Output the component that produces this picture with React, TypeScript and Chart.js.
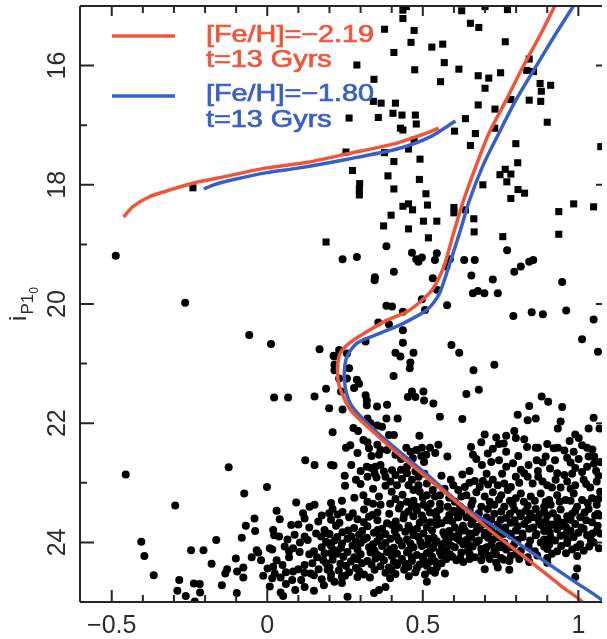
import { useEffect, useRef } from "react";
import { Chart, registerables } from "chart.js";

Chart.register(...registerables);

// ---------- axes ----------
const X_MIN = -0.602;
const X_MAX = 1.076;
const Y_MIN = 15;
const Y_MAX = 25;
const xMajorTicks = [-0.5, 0, 0.5, 1];
const xTickLabels = ["\u22120.5", "0", "0.5", "1"];
const xMinorTicks = [-0.4, -0.3, -0.2, -0.1, 0.1, 0.2, 0.3, 0.4, 0.6, 0.7, 0.8, 0.9];
const yMajorTicks = [16, 18, 20, 22, 24];
const yTickLabels = ["16", "18", "20", "22", "24"];
const yMinorTicks = [17, 19, 21, 23];
const yTitleMain = "i";
const yTitleSub = "P1";
const yTitleSubSub = "0";

// ---------- legend ----------
const seriesNames = ["[Fe/H]=\u22122.19", "[Fe/H]=\u22121.80"];
const seriesAges = ["t=13 Gyrs", "t=13 Gyrs"];
const seriesColors = ["#f0553a", "#3760c4"];

// ---------- isochrones ----------
const redHB: [number, number][] = [
  [-0.462, 18.54], [-0.433, 18.37], [-0.379, 18.2], [-0.315, 18.09], [-0.236, 17.97],
  [-0.124, 17.85], [-0.006, 17.72], [0.131, 17.62], [0.258, 17.48], [0.417, 17.3],
  [0.497, 17.16], [0.551, 17.05],
];
const redRGB: [number, number][] = [
  [1.04, 25.25], [1.013, 25.0], [0.949, 24.75], [0.841, 24.3], [0.736, 23.88], [0.631, 23.42],
  [0.522, 22.95], [0.417, 22.5], [0.344, 22.16], [0.268, 21.78], [0.232, 21.39], [0.226, 21.06],
  [0.236, 20.81], [0.268, 20.64], [0.312, 20.49], [0.385, 20.27], [0.449, 20.13], [0.49, 19.97],
  [0.529, 19.77], [0.567, 19.38], [0.599, 18.81], [0.631, 18.26], [0.672, 17.67], [0.713, 17.13],
  [0.768, 16.58], [0.822, 16.02], [0.879, 15.47], [0.924, 15.0], [0.939, 14.83],
];
const blueHB: [number, number][] = [
  [-0.204, 18.07], [-0.172, 18.0], [-0.115, 17.92], [-0.006, 17.8], [0.099, 17.72],
  [0.258, 17.57], [0.417, 17.4], [0.522, 17.2], [0.605, 16.93],
];
const blueRGB: [number, number][] = [
  [1.12, 25.25], [1.076, 24.97], [1.0, 24.7], [0.895, 24.33], [0.736, 23.76], [0.624, 23.37],
  [0.522, 22.9], [0.354, 22.16], [0.274, 21.73], [0.252, 21.44], [0.248, 21.11], [0.258, 20.86],
  [0.29, 20.65], [0.363, 20.49], [0.439, 20.32], [0.513, 20.1], [0.551, 19.85], [0.583, 19.38],
  [0.618, 18.81], [0.65, 18.26], [0.694, 17.67], [0.745, 17.13], [0.799, 16.58], [0.863, 16.02],
  [0.927, 15.47], [0.984, 15.0], [1.003, 14.83],
];

// ---------- stars drawn as squares ----------
const squareStars: [number, number][] = [
  [0.436, 15.07], [0.447, 15.01], [0.436, 15.21], [0.377, 15.39], [0.472, 15.41], [0.462, 15.61],
  [0.407, 15.78], [0.529, 15.69], [0.564, 15.64], [0.625, 15.08], [0.7, 15.01], [0.772, 15.06],
  [0.653, 15.29], [0.68, 15.36], [0.765, 15.6], [0.288, 15.99], [0.474, 16.07], [0.569, 15.95],
  [0.616, 16.06], [0.557, 16.27], [0.343, 16.23], [0.678, 16.17], [0.712, 16.21], [0.75, 16.12],
  [0.7, 16.38], [0.678, 16.66], [0.732, 16.73], [0.783, 16.57], [0.842, 15.89], [0.834, 16.08],
  [0.856, 16.1], [0.877, 16.3], [0.911, 16.33], [0.881, 16.43], [0.879, 16.6], [0.842, 16.58],
  [0.9, 16.95], [0.341, 16.6], [0.366, 16.63], [0.412, 16.63], [0.357, 16.87], [0.404, 16.8],
  [0.433, 16.83], [0.476, 16.83], [0.263, 16.88], [0.479, 16.98], [0.428, 17.05], [0.436, 17.08],
  [0.637, 16.89], [0.602, 17.1], [0.669, 17.14], [0.731, 17.05], [0.653, 17.34], [0.472, 17.25],
  [0.454, 17.4], [0.377, 17.46], [0.253, 17.45], [0.407, 17.61], [0.491, 17.57], [0.799, 17.31],
  [0.805, 17.63], [0.274, 17.76], [0.765, 17.74], [0.748, 17.83], [0.783, 17.82], [0.77, 17.95],
  [0.388, 17.85], [0.489, 17.91], [0.297, 17.98], [0.296, 18.07], [0.296, 18.17], [0.407, 18.07],
  [0.51, 18.15], [0.693, 18.0], [0.806, 18.08], [0.827, 18.14], [0.783, 18.23], [0.436, 18.36],
  [0.454, 18.32], [0.467, 18.42], [0.515, 18.34], [0.6, 18.38], [0.6, 18.47], [0.637, 18.42],
  [0.664, 18.57], [0.665, 18.79], [0.398, 18.51], [0.374, 18.69], [0.454, 18.74], [0.502, 18.61],
  [0.545, 18.61], [0.518, 18.89], [0.757, 18.87], [0.937, 18.45], [0.985, 18.32], [1.049, 18.37],
  [0.937, 18.83], [0.189, 18.96], [1.072, 17.36], [-0.239, 18.05],
];

// ---------- stars drawn as circles ----------
const circleStars: [number, number][] = [
  [-0.487, 19.19], [-0.264, 19.98],
  [0.383, 19.03], [0.242, 19.25], [0.288, 19.21], [0.346, 19.55], [0.407, 19.46], [0.465, 19.14],
  [0.479, 19.25], [0.497, 19.22], [0.486, 19.29], [0.545, 19.15], [0.539, 19.26], [0.587, 19.25],
  [0.633, 19.26], [0.667, 19.26], [0.656, 19.52], [0.532, 19.57], [0.576, 19.37], [0.725, 19.59],
  [0.771, 19.1], [0.794, 19.46], [0.815, 19.37], [0.842, 19.29], [0.855, 19.26], [0.948, 19.63],
  [0.677, 19.78], [0.661, 19.82], [0.698, 19.82], [0.741, 19.82], [0.791, 20.2], [0.85, 20.14],
  [0.886, 20.17], [0.961, 20.11], [0.383, 20.03], [0.401, 20.04], [0.436, 20.13], [0.497, 19.92],
  [0.507, 20.1], [0.578, 20.02], [0.545, 19.76], [0.345, 19.6], [1.049, 20.26],
  [0.391, 20.34], [0.357, 20.31], [0.436, 20.44], [0.316, 20.63], [0.168, 20.76], [0.436, 20.65],
  [0.412, 20.82], [0.47, 20.82], [0.592, 20.69], [0.617, 20.82], [1.012, 20.59], [1.063, 20.8],
  [0.213, 20.87], [0.231, 20.77], [0.216, 20.88], [0.256, 20.83], [0.216, 21.02], [0.216, 21.11],
  [0.263, 21.08], [0.231, 21.25], [0.256, 21.25], [0.428, 20.88], [0.46, 20.98], [0.458, 21.08],
  [0.663, 21.11], [0.73, 21.02], [0.406, 21.21], [0.288, 21.27], [0.295, 21.34], [0.279, 21.41],
  [0.189, 21.42], [0.152, 21.55], [0.237, 21.47], [0.316, 21.53], [0.32, 21.62], [0.465, 21.47],
  [0.476, 21.56], [0.452, 21.56], [0.502, 21.47], [0.504, 21.62], [0.534, 21.67], [0.64, 21.51],
  [0.68, 21.44], [0.882, 21.55], [0.903, 21.64], [0.842, 21.71], [0.948, 21.73], [0.199, 21.75],
  [0.242, 21.77], [0.32, 21.7], [0.353, 21.72], [0.385, 21.69],
  [-0.058, 20.52], [0.012, 20.67], [0.022, 21.57], [0.067, 21.57], [0.122, 22.62], [-0.455, 22.86],
  [-0.124, 22.74], [-0.296, 23.38], [-0.001, 23.07], [-0.074, 23.18], [0.093, 23.33], [0.03, 23.47],
  [0.04, 23.61], [-0.041, 23.6], [-0.069, 23.72], [-0.039, 23.81], [0.077, 23.71], [0.115, 23.51],
  [0.12, 23.6], [0.019, 23.79], [0.022, 23.88], [0.038, 23.9], [0.088, 23.87], [0.12, 23.9],
  [-0.082, 23.92], [-0.164, 23.96], [-0.405, 23.99], [-0.034, 24.13], [-0.029, 24.17], [0.008, 24.1],
  [0.016, 24.12], [0.056, 24.07], [0.083, 24.1], [0.104, 24.16], [-0.395, 24.23], [-0.245, 24.13],
  [-0.205, 24.13], [-0.101, 24.27], [-0.179, 24.36], [-0.129, 24.45], [-0.135, 24.52], [-0.097, 24.49],
  [-0.077, 24.42], [-0.077, 24.59], [0.001, 24.44], [0.019, 24.41], [0.049, 24.38], [0.024, 24.52],
  [0.016, 24.6], [0.043, 24.59], [-0.013, 24.56], [0.12, 24.38], [0.12, 24.51], [0.083, 24.49],
  [0.08, 24.63], [0.109, 24.63], [-0.365, 24.55], [-0.283, 24.63], [-0.146, 24.72], [0.008, 24.74],
  [-0.236, 24.69], [-0.217, 24.7], [-0.289, 24.81], [-0.262, 24.9], [-0.216, 24.84], [-0.233, 24.99],
  [-0.098, 24.85], [0.043, 24.84], [0.051, 24.9],
  [0.03, 24.3], [0.07, 24.15], [-0.02, 24.3], [-0.05, 24.25], [0.25, 24.56], [0.29, 24.58],
  [0.06, 24.7], [0.24, 24.68],
  [0.136, 23.4], [0.152, 23.37], [0.205, 23.34], [0.152, 22.7], [0.205, 22.7], [0.199, 23.51],
  [0.13, 23.96], [0.157, 23.85], [0.205, 24.18], [0.164, 23.65], [0.194, 23.85], [0.184, 23.79],
  [0.173, 23.9], [0.189, 23.99], [0.2, 24.02], [0.15, 24.15], [0.16, 24.25], [0.145, 24.35],
  [0.165, 24.45], [0.15, 24.55], [0.184, 24.18], [0.189, 24.35], [0.194, 24.46], [0.15, 24.81],
  [0.182, 24.72], [0.205, 24.6],
  [0.1, 23.7], [0.135, 23.75], [0.175, 23.55], [0.065, 23.95], [0.105, 24.0], [0.175, 24.08],
  [0.07, 24.25], [0.135, 24.2], [0.18, 24.3], [0.06, 24.5], [0.1, 24.45], [0.14, 24.52],
  [0.175, 24.62], [0.12, 24.75], [0.09, 24.8],
  [0.21, 22.15], [0.277, 22.08], [0.292, 22.13], [0.322, 21.92], [0.332, 22.0], [0.354, 22.04],
  [0.369, 22.06], [0.383, 21.92], [0.419, 21.92], [0.391, 22.2], [0.407, 22.2], [0.489, 22.21],
  [0.555, 21.89], [0.627, 21.93], [0.253, 22.41], [0.267, 22.37], [0.309, 22.28], [0.322, 22.32],
  [0.327, 22.42], [0.354, 22.36], [0.364, 22.45], [0.359, 22.53], [0.412, 22.53], [0.447, 22.41],
  [0.46, 22.48], [0.479, 22.45], [0.468, 22.59], [0.497, 22.41], [0.511, 22.53], [0.504, 22.65],
  [0.523, 22.41], [0.55, 22.36], [0.579, 22.56], [0.213, 22.71], [0.249, 22.88], [0.285, 22.95],
  [0.32, 22.73], [0.334, 22.75], [0.348, 22.73], [0.364, 22.7], [0.375, 22.81], [0.38, 22.9],
  [0.322, 22.9], [0.351, 22.91], [0.401, 22.79], [0.412, 22.87], [0.396, 22.98], [0.417, 23.04],
  [0.433, 22.93], [0.449, 22.73], [0.449, 22.84], [0.476, 22.81], [0.486, 22.9], [0.454, 23.04],
  [0.47, 23.12], [0.486, 23.04], [0.513, 23.01], [0.532, 23.12], [0.513, 23.21], [0.539, 23.23],
  [0.555, 23.21], [0.525, 23.35], [0.555, 23.35], [0.502, 23.37], [0.627, 22.86], [0.598, 23.04],
  [0.614, 23.12], [0.635, 23.07], [0.624, 23.23], [0.603, 23.32], [0.309, 23.21], [0.322, 23.32],
  [0.359, 23.23], [0.364, 23.37], [0.412, 23.27], [0.428, 23.37], [0.449, 23.32],
  [0.29, 22.5], [0.335, 22.55], [0.385, 22.45], [0.43, 22.6], [0.495, 22.55], [0.54, 22.5],
  [0.27, 22.7], [0.3, 22.8], [0.345, 22.84], [0.43, 22.78], [0.465, 22.95], [0.505, 22.85],
  [0.56, 22.88], [0.59, 22.95], [0.25, 23.05], [0.3, 23.02], [0.34, 23.1], [0.38, 23.05],
  [0.4, 23.15], [0.435, 23.2], [0.49, 23.15], [0.5, 23.25], [0.57, 23.1], [0.585, 23.25],
  [0.24, 23.3], [0.28, 23.25], [0.34, 23.35], [0.395, 23.35], [0.47, 23.3], [0.48, 23.4],
  [0.58, 23.4], [0.62, 23.4],
  [0.805, 21.86], [0.837, 21.95], [0.863, 21.92], [0.943, 21.97], [0.934, 22.09], [1.049, 21.91],
  [1.033, 22.09], [1.068, 22.09], [0.699, 22.19], [0.688, 22.32], [0.736, 22.24], [0.768, 22.21],
  [0.76, 22.34], [0.794, 22.13], [0.799, 22.25], [0.826, 22.27], [0.725, 22.43], [0.709, 22.51],
  [0.72, 22.65], [0.661, 22.53], [0.672, 22.6], [0.768, 22.48], [0.807, 22.55], [0.768, 22.73],
  [0.863, 22.41], [0.87, 22.41], [0.866, 22.62], [0.895, 22.56], [0.921, 22.42], [0.934, 22.41],
  [0.972, 22.3], [0.99, 22.19], [1.001, 22.25], [1.012, 22.37], [1.028, 22.41], [0.985, 22.48],
  [0.964, 22.58], [1.001, 22.6], [1.033, 22.56], [1.051, 22.56], [0.99, 22.75], [1.028, 22.73],
  [1.057, 22.8], [1.07, 22.65], [0.909, 22.76], [0.932, 22.84], [0.955, 22.87],
  [0.655, 22.4], [0.745, 22.35], [0.835, 22.4], [0.9, 22.35], [0.955, 22.46], [1.045, 22.44],
  [0.69, 22.7], [0.745, 22.62], [0.79, 22.67], [0.84, 22.7], [0.885, 22.66], [0.925, 22.62],
  [0.975, 22.66], [1.05, 22.68], [0.65, 22.8], [0.705, 22.85], [0.755, 22.85], [0.815, 22.78],
  [0.87, 22.8], [0.98, 22.85], [1.012, 22.82], [1.065, 22.88],
  [0.667, 22.97], [0.683, 23.07], [0.693, 22.97], [0.725, 22.95], [0.741, 23.04], [0.762, 23.01],
  [0.783, 23.07], [0.799, 22.9], [0.826, 22.84], [0.837, 22.9], [0.853, 23.01], [0.871, 22.9],
  [0.9, 23.04], [0.927, 22.95], [0.943, 23.08], [0.964, 22.98], [0.99, 23.04], [1.017, 22.95],
  [1.038, 23.08], [1.059, 22.98], [1.07, 23.15],
  [0.65, 23.0], [0.71, 23.03], [0.81, 23.0], [0.885, 22.98], [0.915, 23.08], [0.975, 23.1],
  [1.025, 23.02],
  [0.64, 23.21], [0.672, 23.16], [0.699, 23.23], [0.725, 23.16], [0.752, 23.21], [0.773, 23.12],
  [0.799, 23.26], [0.815, 23.18], [0.847, 23.23], [0.879, 23.18], [0.906, 23.29], [0.932, 23.21],
  [0.959, 23.29], [0.985, 23.18], [1.012, 23.29], [1.044, 23.26], [1.059, 23.37],
  [0.66, 23.3], [0.715, 23.32], [0.745, 23.28], [0.78, 23.3], [0.825, 23.32], [0.86, 23.3],
  [0.895, 23.32], [0.94, 23.32], [0.975, 23.3], [1.03, 23.34], [1.065, 23.27],
  [0.656, 23.37], [0.688, 23.4], [0.73, 23.37], [0.762, 23.4], [0.789, 23.36], [0.837, 23.38],
  [0.89, 23.4], [0.911, 23.37], [0.996, 23.4],
  [0.21, 23.44], [0.242, 23.49], [0.311, 23.45], [0.354, 23.5], [0.423, 23.43], [0.454, 23.48],
  [0.481, 23.46], [0.523, 23.5], [0.555, 23.44], [0.598, 23.47], [0.624, 23.5],
  [0.226, 23.53], [0.275, 23.51], [0.338, 23.54], [0.392, 23.52], [0.44, 23.53], [0.497, 23.55],
  [0.54, 23.52], [0.585, 23.54],
  [0.205, 23.62], [0.263, 23.58], [0.29, 23.61], [0.327, 23.57], [0.354, 23.63], [0.438, 23.6],
  [0.47, 23.56], [0.502, 23.62], [0.545, 23.59], [0.576, 23.63], [0.614, 23.58],
  [0.232, 23.67], [0.31, 23.66], [0.385, 23.68], [0.413, 23.65], [0.49, 23.67], [0.525, 23.66],
  [0.56, 23.68], [0.595, 23.65],
  [0.221, 23.72], [0.279, 23.76], [0.322, 23.73], [0.369, 23.77], [0.401, 23.71], [0.423, 23.75],
  [0.454, 23.72], [0.481, 23.77], [0.513, 23.74], [0.545, 23.7], [0.603, 23.75], [0.629, 23.72],
  [0.26, 23.8], [0.305, 23.81], [0.355, 23.79], [0.41, 23.81], [0.465, 23.79], [0.53, 23.8],
  [0.585, 23.81], [0.625, 23.8],
  [0.2, 23.86], [0.242, 23.83], [0.295, 23.87], [0.343, 23.84], [0.38, 23.86], [0.444, 23.82],
  [0.47, 23.88], [0.502, 23.85], [0.566, 23.83], [0.614, 23.87],
  [0.225, 23.91], [0.27, 23.9], [0.32, 23.92], [0.362, 23.91], [0.415, 23.9], [0.485, 23.91],
  [0.535, 23.92], [0.595, 23.9],
  [0.216, 23.97], [0.258, 23.94], [0.285, 23.99], [0.311, 23.95], [0.354, 23.98], [0.396, 23.94],
  [0.423, 23.97], [0.449, 23.95], [0.492, 23.99], [0.518, 23.94], [0.545, 23.98], [0.582, 23.95],
  [0.619, 23.97],
  [0.24, 24.02], [0.3, 24.01], [0.34, 24.03], [0.38, 24.01], [0.46, 24.02], [0.515, 24.03],
  [0.57, 24.01],
  [0.205, 24.06], [0.237, 24.09], [0.274, 24.05], [0.327, 24.08], [0.369, 24.06], [0.407, 24.09],
  [0.433, 24.05], [0.47, 24.08], [0.497, 24.06], [0.534, 24.09], [0.561, 24.05], [0.603, 24.08],
  [0.215, 24.13], [0.29, 24.12], [0.345, 24.14], [0.395, 24.12], [0.455, 24.13], [0.525, 24.12],
  [0.575, 24.14],
  [0.226, 24.19], [0.258, 24.16], [0.3, 24.2], [0.332, 24.17], [0.354, 24.21], [0.385, 24.16],
  [0.417, 24.19], [0.449, 24.17], [0.481, 24.21], [0.513, 24.18], [0.555, 24.16], [0.587, 24.2],
  [0.624, 24.17],
  [0.245, 24.24], [0.28, 24.25], [0.365, 24.24], [0.4, 24.23], [0.465, 24.25], [0.53, 24.24],
  [0.595, 24.24],
  [0.21, 24.29], [0.269, 24.32], [0.29, 24.28], [0.322, 24.31], [0.348, 24.27], [0.375, 24.3],
  [0.407, 24.33], [0.433, 24.28], [0.465, 24.31], [0.502, 24.29], [0.539, 24.32], [0.576, 24.28],
  [0.608, 24.3],
  [0.235, 24.36], [0.305, 24.35], [0.335, 24.37], [0.42, 24.35], [0.49, 24.37], [0.56, 24.35],
  [0.2, 24.42], [0.253, 24.39], [0.285, 24.43], [0.364, 24.4], [0.391, 24.42], [0.417, 24.38],
  [0.454, 24.41], [0.481, 24.43], [0.513, 24.39], [0.545, 24.42],
  [0.23, 24.47], [0.295, 24.48], [0.345, 24.46], [0.4, 24.47], [0.44, 24.46], [0.525, 24.47],
  [0.205, 24.53], [0.263, 24.5], [0.311, 24.54], [0.38, 24.51], [0.412, 24.53], [0.476, 24.5],
  [0.507, 24.54], [0.539, 24.51], [0.571, 24.52],
  [0.24, 24.58], [0.33, 24.59], [0.395, 24.6], [0.455, 24.57],
  [0.216, 24.66], [0.513, 24.66], [0.343, 24.85], [0.359, 24.8], [0.38, 24.75], [0.258, 24.91],
  [0.465, 23.4], [0.515, 23.42], [0.545, 23.48], [0.585, 23.6], [0.61, 23.52], [0.665, 23.6],
  [0.69, 23.7], [0.75, 23.62], [0.705, 23.58], [0.78, 23.52], [0.845, 23.52], [0.87, 23.6],
  [0.935, 23.64], [0.96, 23.74], [0.88, 23.71], [0.82, 23.85], [0.76, 23.86], [0.8, 23.97],
  [0.71, 23.92], [0.67, 23.83], [0.61, 23.93], [0.57, 23.88], [0.54, 24.0], [0.59, 24.05],
  [0.645, 24.02], [0.7, 24.13], [0.75, 24.08], [0.84, 24.06], [0.86, 24.15], [0.62, 24.26],
  [0.56, 24.22], [0.5, 24.24], [0.445, 24.36], [0.52, 24.33],
  [0.651, 23.47], [0.709, 23.44], [0.752, 23.48], [0.794, 23.45], [0.831, 23.47], [0.863, 23.44],
  [0.89, 23.48], [0.943, 23.45], [0.99, 23.47], [1.033, 23.44],
  [0.68, 23.51], [0.73, 23.52], [0.812, 23.51], [0.875, 23.53], [0.918, 23.51], [0.98, 23.52],
  [1.02, 23.5], [1.062, 23.52],
  [0.64, 23.58], [0.677, 23.55], [0.768, 23.59], [0.815, 23.56], [0.853, 23.58], [0.9, 23.55],
  [0.932, 23.59], [0.964, 23.56], [1.006, 23.58], [1.054, 23.55],
  [0.66, 23.63], [0.72, 23.62], [0.795, 23.63], [0.838, 23.62], [0.895, 23.64], [0.975, 23.62],
  [1.025, 23.63],
  [0.656, 23.69], [0.699, 23.66], [0.741, 23.7], [0.783, 23.67], [0.826, 23.69], [0.874, 23.66],
  [0.916, 23.7], [0.953, 23.67], [0.99, 23.69], [1.044, 23.66],
  [0.675, 23.74], [0.715, 23.73], [0.765, 23.75], [0.805, 23.73], [0.855, 23.75], [0.905, 23.74],
  [0.94, 23.73], [1.01, 23.75], [1.062, 23.72],
  [0.635, 23.8], [0.683, 23.77], [0.72, 23.81], [0.757, 23.78], [0.799, 23.8], [0.842, 23.77],
  [0.89, 23.81], [0.932, 23.78], [0.975, 23.8], [1.017, 23.77], [1.059, 23.81],
  [0.65, 23.85], [0.7, 23.84], [0.738, 23.86], [0.778, 23.85], [0.865, 23.86], [0.908, 23.84],
  [0.96, 23.86], [1.0, 23.84], [1.045, 23.85],
  [0.656, 23.91], [0.699, 23.88], [0.746, 23.92], [0.783, 23.89], [0.821, 23.91], [0.863, 23.88],
  [0.911, 23.92], [0.943, 23.89], [0.985, 23.91], [1.028, 23.88],
  [0.64, 23.96], [0.68, 23.97], [0.725, 23.95], [0.805, 23.96], [0.845, 23.97], [0.89, 23.95],
  [0.925, 23.97], [0.965, 23.96], [1.04, 23.96],
  [0.63, 24.03], [0.672, 24.0], [0.72, 24.04], [0.762, 24.01], [0.794, 24.03], [0.879, 24.0],
  [0.906, 24.04], [0.964, 24.01], [1.006, 24.03], [1.049, 24.0],
  [0.66, 24.07], [0.705, 24.08], [0.745, 24.06], [0.785, 24.08], [0.89, 24.07], [0.945, 24.06],
  [0.995, 24.08], [1.035, 24.07],
  [0.645, 24.14], [0.688, 24.11], [0.73, 24.15], [0.768, 24.12], [0.815, 24.14], [0.9, 24.11],
  [0.932, 24.15], [0.98, 24.12], [1.017, 24.14],
  [0.65, 24.19], [0.69, 24.18], [0.735, 24.2], [0.8, 24.19], [0.915, 24.19], [0.96, 24.18],
  [0.667, 24.25], [0.709, 24.22], [0.752, 24.26], [0.783, 24.23], [0.837, 24.25], [0.868, 24.22],
  [0.9, 24.26], [0.996, 24.23],
  [0.65, 24.28], [0.715, 24.28], [0.76, 24.29], [0.81, 24.28],
  [0.63, 24.33], [0.688, 24.3], [0.736, 24.34], [0.778, 24.31], [0.842, 24.33], [0.9, 24.34],
  [0.699, 24.45], [0.741, 24.42], [0.778, 24.46], [0.996, 24.44], [0.99, 24.58],
  [1.068, 23.55], [1.07, 23.85], [1.066, 24.1],
];

const toXY = (arr: [number, number][]) => arr.map(([x, y]) => ({ x, y }));

const FONT = "'Liberation Sans', Arial, Helvetica, sans-serif";

const cmdPlugin = {
  id: "cmdFrame",
  afterDatasetsDraw(chart: any) {
    const { ctx, chartArea: a, scales } = chart;
    const xs = scales.x;
    const ys = scales.y;
    ctx.save();
    ctx.strokeStyle = "#262626";
    ctx.lineWidth = 2;
    ctx.lineCap = "butt";
    ctx.beginPath();
    ctx.moveTo(a.left, a.top);
    ctx.lineTo(a.right, a.top);
    ctx.moveTo(a.left, a.top);
    ctx.lineTo(a.left, a.bottom);
    ctx.moveTo(a.left, a.bottom);
    ctx.lineTo(a.right, a.bottom);
    ctx.stroke();

    ctx.beginPath();
    const seg = (x1: number, y1: number, x2: number, y2: number) => {
      ctx.moveTo(x1, y1);
      ctx.lineTo(x2, y2);
    };
    xMajorTicks.forEach((v) => {
      const p = xs.getPixelForValue(v);
      seg(p, a.bottom, p, a.bottom - 12);
      seg(p, a.top, p, a.top + 10);
    });
    xMinorTicks.forEach((v) => {
      const p = xs.getPixelForValue(v);
      seg(p, a.bottom, p, a.bottom - 7);
      seg(p, a.top, p, a.top + 7);
    });
    yMajorTicks.forEach((v) => {
      const p = ys.getPixelForValue(v);
      seg(a.left, p, a.left + 14, p);
      seg(a.right, p, a.right - 6, p);
    });
    yMinorTicks.forEach((v) => {
      const p = ys.getPixelForValue(v);
      seg(a.left, p, a.left + 7, p);
    });
    ctx.stroke();

    // tick labels
    ctx.fillStyle = "#2b2b2b";
    ctx.font = `25px ${FONT}`;
    ctx.textAlign = "center";
    ctx.textBaseline = "alphabetic";
    xMajorTicks.forEach((v, i) => {
      ctx.fillText(xTickLabels[i], xs.getPixelForValue(v), a.bottom + 31);
    });
    yMajorTicks.forEach((v, i) => {
      ctx.save();
      ctx.translate(a.left - 15, ys.getPixelForValue(v));
      ctx.rotate(-Math.PI / 2);
      ctx.fillText(yTickLabels[i], 0, 0);
      ctx.restore();
    });

    // y title: i_{P1_0}
    ctx.save();
    const f1 = `24px ${FONT}`;
    const f2 = `17px ${FONT}`;
    const f3 = `12px ${FONT}`;
    ctx.font = f1;
    const w1 = ctx.measureText(yTitleMain).width;
    ctx.font = f2;
    const w2 = ctx.measureText(yTitleSub).width;
    ctx.font = f3;
    const w3 = ctx.measureText(yTitleSubSub).width;
    const total = w1 + w2 + w3 + 1;
    const midY = (a.top + a.bottom) / 2;
    ctx.translate(26, midY + total / 2);
    ctx.rotate(-Math.PI / 2);
    ctx.textAlign = "left";
    ctx.font = f1;
    ctx.fillText(yTitleMain, 0, 0);
    ctx.font = f2;
    ctx.fillText(yTitleSub, w1 + 1, 7);
    ctx.font = f3;
    ctx.fillText(yTitleSubSub, w1 + 1 + w2, 12);
    ctx.restore();

    // legend
    const lineY = [36, 96];
    const textY = [[42, 67], [101, 127]];
    seriesColors.forEach((c, i) => {
      ctx.lineWidth = 3.5;
      ctx.strokeStyle = c;
      ctx.beginPath();
      ctx.moveTo(112, lineY[i]);
      ctx.lineTo(175, lineY[i]);
      ctx.stroke();
      ctx.fillStyle = c;
      ctx.font = `24px ${FONT}`;
      ctx.textAlign = "left";
      ctx.lineWidth = 0.7;
      [seriesNames[i], seriesAges[i]].forEach((t, j) => {
        ctx.save();
        ctx.translate(206, textY[i][j]);
        ctx.scale(1.2, 1);
        ctx.fillText(t, 0, 0);
        ctx.strokeText(t, 0, 0);
        ctx.restore();
      });
    });
    ctx.restore();
  },
};

export default function App() {
  const canvasRef = useRef<HTMLCanvasElement | null>(null);

  useEffect(() => {
    const canvas = canvasRef.current;
    if (!canvas) return;
    const lineDs = (data: [number, number][], color: string) => ({
      type: "scatter" as const,
      data: toXY(data),
      showLine: true,
      borderColor: color,
      backgroundColor: color,
      borderWidth: 3.5,
      pointRadius: 0,
      tension: 0.25,
      order: 0,
    });
    const chart = new Chart(canvas, {
      type: "scatter",
      data: {
        datasets: [
          lineDs(redHB, seriesColors[0]),
          lineDs(redRGB, seriesColors[0]),
          lineDs(blueHB, seriesColors[1]),
          lineDs(blueRGB, seriesColors[1]),
          {
            data: toXY(squareStars),
            pointStyle: "rect",
            pointRadius: 5,
            backgroundColor: "#000",
            borderWidth: 0,
            order: 1,
          },
          {
            data: toXY(circleStars),
            pointStyle: "circle",
            pointRadius: 4,
            backgroundColor: "#000",
            borderWidth: 0,
            order: 1,
          },
        ],
      },
      options: {
        animation: false,
        responsive: false,
        maintainAspectRatio: false,
        devicePixelRatio: 1,
        layout: { padding: { left: 80, top: 6, right: 0, bottom: 37 } },
        plugins: { legend: { display: false }, tooltip: { enabled: false } },
        scales: {
          x: { type: "linear", min: X_MIN, max: X_MAX, display: false },
          y: { type: "linear", min: Y_MIN, max: Y_MAX, reverse: true, display: false },
        },
      },
      plugins: [cmdPlugin],
    });
    return () => chart.destroy();
  }, []);

  return (
    <div style={{ position: "absolute", left: 0, top: 0, width: 607, height: 639, background: "#fff" }}>
      <canvas ref={canvasRef} width={607} height={639} style={{ width: 607, height: 639, display: "block" }} />
    </div>
  );
}
